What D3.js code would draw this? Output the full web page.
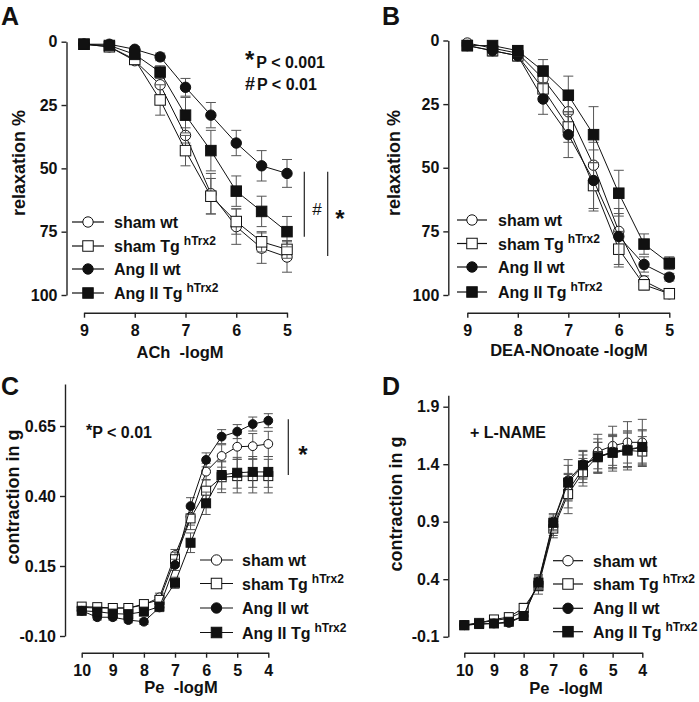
<!DOCTYPE html>
<html><head><meta charset="utf-8">
<script src="https://cdn.jsdelivr.net/npm/d3@7"></script>
<style>
body{margin:0;background:#fff;}
svg{font-family:"Liberation Sans",Arial,sans-serif;font-weight:bold;}
</style></head><body>
<svg id="chart" width="699" height="702"></svg>
<script>
// ---------- data ----------
const seriesNames = ["sham wt", "sham Tg", "Ang II wt", "Ang II Tg"];
const seriesShapes = ["circle", "square", "circle", "square"];
const seriesFilled = [false, false, true, true];
const superscript = "hTrx2";

const xRelax = [9, 8.5, 8, 7.5, 7, 6.5, 6, 5.5, 5];
const xPe = [10, 9.5, 9, 8.5, 8, 7.5, 7, 6.5, 6, 5.5, 5, 4.5, 4];
const relaxXTicks = [9, 8, 7, 6, 5];
const relaxYTicks = [0, 25, 50, 75, 100];
const peXTicks = [10, 9, 8, 7, 6, 5, 4];
const cYTicks = [-0.10, 0.15, 0.40, 0.65];
const dYTicks = [-0.1, 0.4, 0.9, 1.4, 1.9];

// Panel A (ACh)
const A_shamWt = [1, 2, 7.5, 17, 37, 60, 73, 81.5, 85];
const A_shamTg = [1, 2, 7, 23, 43, 61, 71, 79, 82];
const A_angWt  = [1, 1, 3, 6, 18, 29, 40, 49, 52];
const A_angTg  = [1, 1.5, 5, 12, 29, 43, 59, 67, 75];
const A_shamWtErr = [0.5, 1, 1.5, 4, 3, 8, 7, 6, 6];
const A_shamTgErr = [0.5, 1, 1.5, 6, 6, 7, 5, 4, 3.5];
const A_angWtErr  = [0.5, 0.5, 1, 1.5, 3.5, 5, 5, 6, 5.5];
const A_angTgErr  = [0.5, 1, 1.5, 2.5, 7, 8, 6, 6, 6];

// Panel B (DEA-NOnoate)
const B_shamWt = [1, 3, 5, 15, 28, 49, 75, 94.5, 99.5];
const B_shamTg = [2, 4, 6, 19, 34, 57, 82, 96, 99.5];
const B_angWt  = [2, 4, 6, 23, 37, 55, 77, 88, 93];
const B_angTg  = [2, 2, 4, 12, 21.5, 37, 60, 80, 87.5];
const B_shamWtErr = [0.5, 1.5, 2, 4, 6, 9, 7, 2, 0.5];
const B_shamTgErr = [0.5, 2, 2, 5, 6, 9, 7, 2, 0.5];
const B_angWtErr  = [0.5, 2, 2, 6, 9, 12, 11, 3, 1.5];
const B_angTgErr  = [0.5, 1.5, 2, 4.5, 7.5, 11, 9, 4, 2.5];

// Panel C (Pe)
const C_shamWt = [0.002, 0.0, 0.0, 0.0, 0.011, 0.038, 0.189, 0.326, 0.487, 0.543, 0.576, 0.578, 0.586];
const C_shamTg = [0.005, 0.003, 0.0, 0.0, 0.014, 0.029, 0.174, 0.32, 0.419, 0.467, 0.471, 0.471, 0.471];
const C_angWt  = [-0.01, -0.033, -0.033, -0.043, -0.049, 0.002, 0.154, 0.364, 0.529, 0.612, 0.63, 0.657, 0.669];
const C_angTg  = [-0.01, -0.013, -0.02, -0.022, -0.013, 0.005, 0.09, 0.233, 0.374, 0.475, 0.483, 0.486, 0.486];
const C_shamWtErr = [0.01, 0.01, 0.01, 0.01, 0.01, 0.015, 0.02, 0.03, 0.03, 0.04, 0.045, 0.045, 0.045];
const C_shamTgErr = [0.01, 0.01, 0.01, 0.01, 0.01, 0.015, 0.025, 0.04, 0.04, 0.055, 0.06, 0.06, 0.06];
const C_angWtErr  = [0.01, 0.01, 0.01, 0.01, 0.01, 0.015, 0.02, 0.03, 0.025, 0.025, 0.025, 0.025, 0.025];
const C_angTgErr  = [0.01, 0.01, 0.01, 0.01, 0.01, 0.015, 0.02, 0.035, 0.04, 0.05, 0.055, 0.055, 0.055];

// Panel D (Pe + L-NAME)
const D_shamWt = [0.0, 0.02, 0.04, 0.06, 0.12, 0.36, 0.86, 1.17, 1.36, 1.51, 1.56, 1.59, 1.59];
const D_shamTg = [0.0, 0.02, 0.05, 0.07, 0.15, 0.34, 0.84, 1.14, 1.33, 1.47, 1.50, 1.52, 1.51];
const D_angWt  = [0.0, 0.01, 0.015, 0.02, 0.08, 0.38, 0.90, 1.26, 1.40, 1.46, 1.51, 1.53, 1.55];
const D_angTg  = [0.0, 0.01, 0.015, 0.03, 0.08, 0.37, 0.89, 1.24, 1.39, 1.46, 1.50, 1.52, 1.55];
const D_shamWtErr = [0.02, 0.02, 0.02, 0.03, 0.04, 0.06, 0.08, 0.15, 0.12, 0.15, 0.17, 0.18, 0.2];
const D_shamTgErr = [0.02, 0.02, 0.02, 0.03, 0.04, 0.07, 0.08, 0.17, 0.12, 0.15, 0.16, 0.17, 0.13];
const D_angWtErr  = [0.02, 0.02, 0.02, 0.02, 0.03, 0.06, 0.07, 0.18, 0.12, 0.13, 0.14, 0.15, 0.15];
const D_angTgErr  = [0.02, 0.02, 0.02, 0.02, 0.03, 0.06, 0.07, 0.15, 0.12, 0.13, 0.14, 0.15, 0.14];

// ---------- drawing ----------
const svg = d3.select("#chart");

function drawPanel(cfg) {
  const g = svg.append("g");
  const x = d3.scaleLinear().domain(cfg.xDomain).range(cfg.xRange);
  const y = d3.scaleLinear().domain(cfg.yDomain).range(cfg.yRange);

  const ya = g.append("g").attr("transform", `translate(${cfg.yAxisX},0)`)
    .call(d3.axisLeft(y).tickValues(cfg.yTicks).tickFormat(cfg.yFmt).tickSize(5).tickSizeOuter(0).tickPadding(4));
  const xa = g.append("g").attr("transform", `translate(0,${cfg.xAxisY})`)
    .call(d3.axisBottom(x).tickValues(cfg.xTicks).tickFormat(d3.format("d")).tickSize(5).tickSizeOuter(0).tickPadding(7));
  [ya, xa].forEach(a => {
    a.attr("font-family", null).attr("font-size", 16);
    a.selectAll("path,line").attr("stroke", "#222").attr("stroke-width", 1.4);
    a.selectAll("text").attr("fill", "#111");
  });

  const r = cfg.markerR, half = cfg.sq / 2, cap = cfg.cap;
  const line = d3.line().x((d) => x(d[0])).y((d) => y(d[1]));

  cfg.series.forEach((vals, si) => {
    const errs = cfg.errs[si];
    const pts = cfg.xs.map((xv, i) => [xv, vals[i], errs[i]]);
    const sg = g.append("g");
    pts.forEach(p => {
      const cx = x(p[0]);
      const y1 = y(p[1] - p[2]), y2 = y(p[1] + p[2]);
      sg.append("line").attr("x1", cx).attr("x2", cx).attr("y1", y1).attr("y2", y2)
        .attr("stroke", "#555").attr("stroke-width", 1);
      [y1, y2].forEach(yy => sg.append("line").attr("x1", cx - cap).attr("x2", cx + cap)
        .attr("y1", yy).attr("y2", yy).attr("stroke", "#555").attr("stroke-width", 1));
    });
    sg.append("path").datum(pts).attr("d", line).attr("fill", "none")
      .attr("stroke", "#111").attr("stroke-width", 1);
    pts.forEach(p => drawMarker(sg, x(p[0]), y(p[1]), si, r, half));
  });

  // legend
  cfg.legendY.forEach((ly, i) => {
    g.append("line").attr("x1", cfg.legendX1).attr("x2", cfg.legendX2).attr("y1", ly).attr("y2", ly)
      .attr("stroke", "#111").attr("stroke-width", 1.2);
    drawMarker(g, (cfg.legendX1 + cfg.legendX2) / 2, ly, i, cfg.legR, cfg.legSq / 2);
    const t = g.append("text").attr("x", cfg.legendTextX).attr("y", ly + 6)
      .attr("font-size", 16).attr("fill", "#111");
    if (seriesNames[i].endsWith("Tg")) {
      t.append("tspan").text(seriesNames[i]);
      t.append("tspan").attr("font-size", 12).attr("dx", 4).attr("dy", -7).text(superscript);
    } else {
      t.text(seriesNames[i]);
    }
  });

  g.append("text").attr("x", cfg.letterX).attr("y", cfg.letterY).attr("font-size", 25)
    .attr("fill", "#111").text(cfg.letter);
  g.append("text").attr("x", cfg.xTitleX).attr("y", cfg.xTitleY).attr("text-anchor", "middle")
    .attr("font-size", 16.5).attr("fill", "#111").attr("xml:space", "preserve").text(cfg.xTitle);
  g.append("text").attr("transform", `translate(${cfg.yTitleX},${cfg.yTitleY}) rotate(-90)`)
    .attr("text-anchor", "middle").attr("dy", "0.35em").attr("font-size", 18).attr("fill", "#111")
    .text(cfg.yTitle);
  return g;
}

function drawMarker(sel, cx, cy, si, r, half) {
  const fill = seriesFilled[si] ? "#111" : "#fff";
  if (seriesShapes[si] === "circle") {
    sel.append("circle").attr("cx", cx).attr("cy", cy).attr("r", r)
      .attr("fill", fill).attr("stroke", "#111").attr("stroke-width", 1);
  } else {
    sel.append("rect").attr("x", cx - half).attr("y", cy - half).attr("width", half * 2).attr("height", half * 2)
      .attr("fill", fill).attr("stroke", "#111").attr("stroke-width", 1);
  }
}

const relaxFmt = d3.format("d");
const fmtC = d => d.toFixed(2);
const fmtD = d => d.toFixed(1);

const gA = drawPanel({
  letter: "A", letterX: 1, letterY: 25,
  xDomain: [9, 5], xRange: [84, 287], yDomain: [0, 100], yRange: [41.7, 295],
  yAxisX: 66.5, xAxisY: 312.7, xTicks: relaxXTicks, yTicks: relaxYTicks, yFmt: relaxFmt,
  xs: xRelax, series: [A_shamWt, A_shamTg, A_angWt, A_angTg],
  errs: [A_shamWtErr, A_shamTgErr, A_angWtErr, A_angTgErr],
  markerR: 5.2, sq: 10.5, cap: 5,
  legendY: [222, 246, 269, 293], legendX1: 72, legendX2: 104, legendTextX: 114, legR: 5.2, legSq: 10.5,
  xTitle: "ACh  -logM", xTitleX: 180, xTitleY: 358,
  yTitle: "relaxation %", yTitleX: 19, yTitleY: 163
});
gA.append("text").attr("x", 245).attr("y", 68).attr("fill", "#111")
  .call(t => { t.append("tspan").attr("font-size", 24).text("*"); t.append("tspan").attr("font-size", 16).attr("dx", 2).text("P < 0.001"); });
gA.append("text").attr("x", 245).attr("y", 90).attr("fill", "#111")
  .call(t => { t.append("tspan").attr("font-size", 18).text("#"); t.append("tspan").attr("font-size", 16).attr("dx", 2).text("P < 0.01"); });
gA.append("line").attr("x1", 304.3).attr("x2", 304.3).attr("y1", 171.7).attr("y2", 236.7).attr("stroke", "#222").attr("stroke-width", 1.2);
gA.append("line").attr("x1", 327.7).attr("x2", 327.7).attr("y1", 171.7).attr("y2", 256).attr("stroke", "#222").attr("stroke-width", 1.2);
gA.append("text").attr("x", 317).attr("y", 215).attr("text-anchor", "middle").attr("font-size", 17).attr("font-weight", "normal").attr("fill", "#111").text("#");
gA.append("text").attr("x", 340).attr("y", 227).attr("text-anchor", "middle").attr("font-size", 24).attr("fill", "#111").text("*");

drawPanel({
  letter: "B", letterX: 382, letterY: 25,
  xDomain: [9, 5], xRange: [467.3, 669.3], yDomain: [0, 100], yRange: [40.5, 295],
  yAxisX: 448.3, xAxisY: 312.7, xTicks: relaxXTicks, yTicks: relaxYTicks, yFmt: relaxFmt,
  xs: xRelax, series: [B_shamWt, B_shamTg, B_angWt, B_angTg],
  errs: [B_shamWtErr, B_shamTgErr, B_angWtErr, B_angTgErr],
  markerR: 5.2, sq: 10.5, cap: 5,
  legendY: [220, 243.5, 267, 292], legendX1: 457, legendX2: 487, legendTextX: 498, legR: 5.2, legSq: 10.5,
  xTitle: "DEA-NOnoate -logM", xTitleX: 569, xTitleY: 356,
  yTitle: "relaxation %", yTitleX: 394, yTitleY: 163
});

const gC = drawPanel({
  letter: "C", letterX: 1, letterY: 395,
  xDomain: [10, 4], xRange: [81.7, 268.3], yDomain: [-0.1, 0.8], yRange: [636, 384],
  yAxisX: 65, xAxisY: 652.7, xTicks: peXTicks, yTicks: cYTicks, yFmt: fmtC,
  xs: xPe, series: [C_shamWt, C_shamTg, C_angWt, C_angTg],
  errs: [C_shamWtErr, C_shamTgErr, C_angWtErr, C_angTgErr],
  markerR: 4.4, sq: 9, cap: 4.5,
  legendY: [560, 583.5, 608, 632.5], legendX1: 200, legendX2: 233, legendTextX: 242, legR: 5.2, legSq: 10.5,
  xTitle: "Pe  -logM", xTitleX: 181, xTitleY: 693,
  yTitle: "contraction in g", yTitleX: 13, yTitleY: 497
});
gC.append("text").attr("x", 86).attr("y", 438).attr("fill", "#111")
  .call(t => { t.append("tspan").attr("font-size", 16).attr("dy", -2).text("*"); t.append("tspan").attr("font-size", 16).attr("dy", 2).text("P < 0.01"); });
gC.append("line").attr("x1", 288.3).attr("x2", 288.3).attr("y1", 419.3).attr("y2", 475).attr("stroke", "#222").attr("stroke-width", 1.2);
gC.append("text").attr("x", 303).attr("y", 463).attr("text-anchor", "middle").attr("font-size", 24).attr("fill", "#111").text("*");

const gD = drawPanel({
  letter: "D", letterX: 382, letterY: 395,
  xDomain: [10, 4], xRange: [464.3, 642.3], yDomain: [-0.1, 2.0], yRange: [636.7, 395.2],
  yAxisX: 448.3, xAxisY: 652.7, xTicks: peXTicks, yTicks: dYTicks, yFmt: fmtD,
  xs: xPe, series: [D_shamWt, D_shamTg, D_angWt, D_angTg],
  errs: [D_shamWtErr, D_shamTgErr, D_angWtErr, D_angTgErr],
  markerR: 4.4, sq: 9, cap: 4.5,
  legendY: [560.7, 584, 608.3, 631.7], legendX1: 553, legendX2: 583, legendTextX: 593, legR: 5.2, legSq: 10.5,
  xTitle: "Pe  -logM", xTitleX: 566, xTitleY: 694,
  yTitle: "contraction in g", yTitleX: 396, yTitleY: 504
});
gD.append("text").attr("x", 470).attr("y", 438).attr("font-size", 16).attr("fill", "#111").text("+ L-NAME");
</script>
</body></html>
